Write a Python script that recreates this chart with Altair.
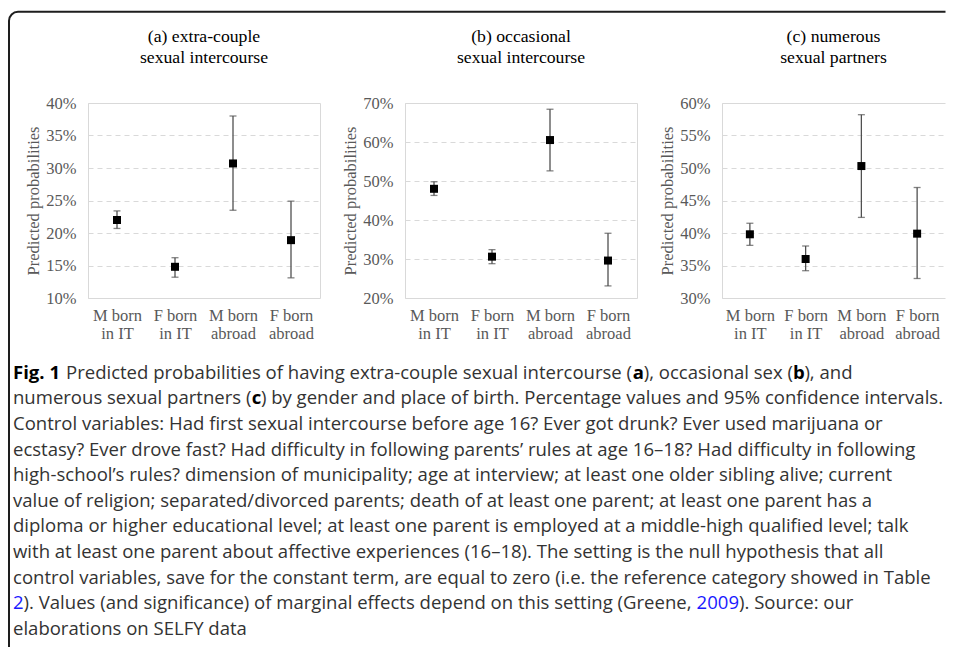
import altair as alt
import pandas as pd

# ---------------- data ----------------
categories = ["M born\nin IT", "F born\nin IT", "M born\nabroad", "F born\nabroad"]

a_title = ["(a) extra-couple", "sexual intercourse"]
a_est = [22.0, 14.8, 30.7, 18.9]
a_lo = [20.7, 13.2, 23.5, 13.1]
a_hi = [23.4, 16.2, 38.0, 24.9]
a_ticks = [10, 15, 20, 25, 30, 35, 40]

b_title = ["(b) occasional", "sexual intercourse"]
b_est = [48.0, 30.6, 60.5, 29.6]
b_lo = [46.3, 28.8, 52.6, 23.1]
b_hi = [49.8, 32.4, 68.4, 36.6]
b_ticks = [20, 30, 40, 50, 60, 70]

c_title = ["(c) numerous", "sexual partners"]
c_est = [39.8, 36.0, 50.3, 39.9]
c_lo = [38.1, 34.2, 42.4, 33.0]
c_hi = [41.5, 38.0, 58.2, 47.0]
c_ticks = [30, 35, 40, 45, 50, 55, 60]

y_title = "Predicted probabilities"

# caption (11 lines); styled lines are split into parts
fig_label = "Fig. 1"
line1_parts = ["Predicted probabilities of having extra-couple sexual intercourse (", "a",
               "), occasional sex (", "b", "), and"]
line2_parts = ["numerous sexual partners (", "c",
               ") by gender and place of birth. Percentage values and 95% confidence intervals."]
plain_idx = [2, 3, 4, 5, 6, 7, 8, 10]
plain_lines = [
    "Control variables: Had first sexual intercourse before age 16? Ever got drunk? Ever used marijuana or",
    "ecstasy? Ever drove fast? Had difficulty in following parents\u2019 rules at age 16\u201318? Had difficulty in following",
    "high-school\u2019s rules? dimension of municipality; age at interview; at least one older sibling alive; current",
    "value of religion; separated/divorced parents; death of at least one parent; at least one parent has a",
    "diploma or higher educational level; at least one parent is employed at a middle-high qualified level; talk",
    "with at least one parent about affective experiences (16\u201318). The setting is the null hypothesis that all",
    "control variables, save for the constant term, are equal to zero (i.e. the reference category showed in Table",
    "elaborations on SELFY data",
]
line10_parts = ["2", "). Values (and significance) of marginal effects depend on this setting (Greene, ",
                "2009", "). Source: our"]
n_lines = 11

SERIF = "Liberation Serif"
SANS = "Open Sans"
BAR = "#505050"
TXT = "#333333"
BLUE = "#1a1aff"
BOX = "#d9d9d9"


def panel(title, est, lo, hi, ticks, w, open_right=False):
    df = pd.DataFrame({"cat": categories, "est": est, "lo": lo, "hi": hi})
    base = alt.Chart(df)
    x = alt.X("cat:N", sort=categories, title=None,
              scale=alt.Scale(type="point", padding=0.5),
              axis=alt.Axis(labelExpr="split(datum.label, '\\n')"))
    yscale = alt.Scale(domain=[ticks[0], ticks[-1]], nice=False, zero=False)
    yaxis = alt.Axis(values=ticks, labelExpr="datum.value + '%'", title=y_title)

    def Y(f):
        return alt.Y(f, type="quantitative", scale=yscale, axis=yaxis)

    rule = base.mark_rule(color=BAR, strokeWidth=1.3).encode(x=x, y=Y("lo"), y2="hi:Q")
    cap_lo = base.mark_tick(color=BAR, size=7, thickness=1.3).encode(x=x, y=Y("lo"))
    cap_hi = base.mark_tick(color=BAR, size=7, thickness=1.3).encode(x=x, y=Y("hi"))
    pts = base.mark_square(size=64, color="black", opacity=1).encode(x=x, y=Y("est"))
    props = dict(width=w, height=195, title=alt.TitleParams(text=title))
    if open_right:
        # the reference panel runs off the page edge: no right border
        props["view"] = alt.ViewBackground(stroke=BOX, strokeWidth=1,
                                           strokeDash=[w, 195, 2 * (w + 195)])
    return alt.layer(rule, cap_lo, cap_hi, pts).properties(**props)


pa = panel(a_title, a_est, a_lo, a_hi, a_ticks, 232)
pb = panel(b_title, b_est, b_lo, b_hi, b_ticks, 232)
pc = panel(c_title, c_est, c_lo, c_hi, c_ticks, 223, open_right=True)

# ---------------- caption ----------------
ysc = alt.Y("i:Q", axis=None,
            scale=alt.Scale(domain=[-0.5, n_lines - 0.5], reverse=True, nice=False, zero=False))
txt = dict(align="left", baseline="middle", font=SANS, fontSize=18.55)


def seg(i, text, xr, color=TXT, weight="normal"):
    return alt.Chart(pd.DataFrame({"i": [i], "text": [text]})).mark_text(
        color=color, fontWeight=weight, **txt
    ).encode(x=alt.value(xr), y=ysc, text="text:N")


plain = alt.Chart(pd.DataFrame({"i": plain_idx, "text": plain_lines})).mark_text(
    color=TXT, **txt
).encode(x=alt.value(-75), y=ysc, text="text:N")

# frame: rounded top-left corner; right side hidden with a dash gap
fx0, fx1, fy0, fy1, rad = -79, 857.5, -348.2, 300, 9
fw, fh = fx1 - fx0, fy1 - fy0
frame = alt.Chart(pd.DataFrame({"k": [0]})).mark_rect(
    fill="white", fillOpacity=0, stroke="#1e1e1e", strokeWidth=2,
    cornerRadiusTopLeft=rad, strokeDash=[fw - rad, fh, 2 * (fw + fh)],
).encode(x=alt.value(fx0), x2=alt.value(fx1), y=alt.value(fy0), y2=alt.value(fy1))

caption = alt.layer(
    frame,
    plain,
    seg(0, fig_label, -75, color="black", weight="bold"),
    seg(0, line1_parts[0], -22),
    seg(0, line1_parts[1], 544.8, color="black", weight="bold"),
    seg(0, line1_parts[2], 555.7),
    seg(0, line1_parts[3], 705.0, color="black", weight="bold"),
    seg(0, line1_parts[4], 716.4),
    seg(1, line2_parts[0], -75),
    seg(1, line2_parts[1], 163.8, color="black", weight="bold"),
    seg(1, line2_parts[2], 172.9),
    seg(9, line10_parts[0], -75, color=BLUE),
    seg(9, line10_parts[1], -64.4),
    seg(9, line10_parts[2], 608.6, color=BLUE),
    seg(9, line10_parts[3], 651.0),
).properties(
    width=232, height=25.6 * n_lines, view=alt.ViewBackground(strokeOpacity=0)
)

chart = alt.concat(
    pa, pb, pc, caption, columns=3, spacing={"row": 62, "column": 85}, bounds="flush"
).properties(
    padding={"top": 2, "left": 0, "right": 0, "bottom": 0}
).configure_view(
    stroke=BOX, strokeWidth=1
).configure_axis(
    labelFont=SERIF, labelFontSize=16.5, labelColor="#595959",
    titleFont=SERIF, titleFontSize=16.5, titleColor="#595959",
    titleFontWeight="normal", domain=False, ticks=False,
    gridColor=BOX, gridDash=[5, 4], gridWidth=1,
).configure_axisX(
    grid=False, labelPadding=9, labelAngle=0, labelLineHeight=18,
).configure_axisY(
    labelPadding=12, titlePadding=4,
).configure_title(
    font=SERIF, fontSize=17.7, fontWeight="normal", color="black",
    anchor="middle", frame="group", offset=28, lineHeight=21,
)

chart.save("out.html", embed_options={"renderer": "svg", "actions": False})
